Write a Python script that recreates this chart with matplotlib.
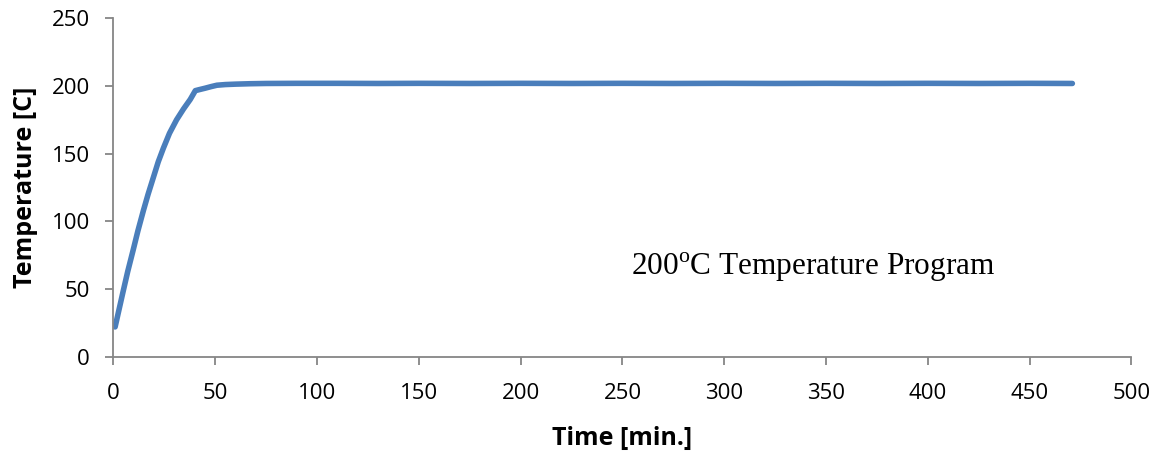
import matplotlib
matplotlib.use('Agg')
from matplotlib import pyplot as plt

# Oven temperature log, 200 C program
time_min = [0.8, 2, 3.2, 4.7, 7, 9.7, 12, 14.7, 17, 19.5, 22, 24.5, 27.5, 31, 34.4, 37.7,
            40.2, 42, 45, 48, 50.8, 55, 60, 67, 75, 90, 110, 130, 150, 175, 200, 225,
            250, 275, 300, 325, 350, 375, 400, 425, 450, 471]
temp_c = [22, 30, 38, 48, 63, 79, 93, 108, 120, 132, 144, 154, 165, 175, 183, 190,
          196.5, 197.2, 198.3, 199.5, 200.5, 201, 201.3, 201.6, 201.8, 201.9, 201.9, 201.8,
          201.9, 201.8, 201.9, 201.8, 201.9, 201.8, 201.9, 201.8, 201.9, 201.8, 201.9,
          201.8, 201.9, 201.8]

plt.rcParams['mathtext.fontset'] = 'custom'
plt.rcParams['mathtext.rm'] = 'Liberation Serif'

fig = plt.figure(figsize=(11.7, 4.55), dpi=100)
ax = fig.add_axes([0.097, 0.216, 0.870, 0.744])

ax.plot(time_min, temp_c, color='#4a7ebb', linewidth=4.0, solid_capstyle='round',
        solid_joinstyle='round')

ax.set_xlim(0, 500)
ax.set_ylim(0, 250)
ax.set_xticks(range(0, 501, 50))
ax.set_yticks(range(0, 251, 50))

for s in ['top', 'right']:
    ax.spines[s].set_visible(False)
for s in ['left', 'bottom']:
    ax.spines[s].set_color('#868686')
    ax.spines[s].set_linewidth(1.3)
ax.tick_params(direction='out', length=6, width=1.3, color='#868686',
               labelsize=16, labelcolor='black')
ax.tick_params(axis='x', pad=13)
ax.tick_params(axis='y', pad=11)
for lab in ax.get_xticklabels() + ax.get_yticklabels():
    lab.set_family('Open Sans')

ax.set_xlabel('Time [min.]', fontsize=18, fontweight='bold', family='Open Sans', labelpad=16)
ax.set_ylabel('Temperature [C]', fontsize=18, fontweight='bold', family='Open Sans', labelpad=10)

ax.text(254, 66, '200$^{\\mathrm{o}}$C Temperature Program', fontsize=22.5,
        family='Liberation Serif', va='center', ha='left')

fig.savefig('out.png', dpi=100)
